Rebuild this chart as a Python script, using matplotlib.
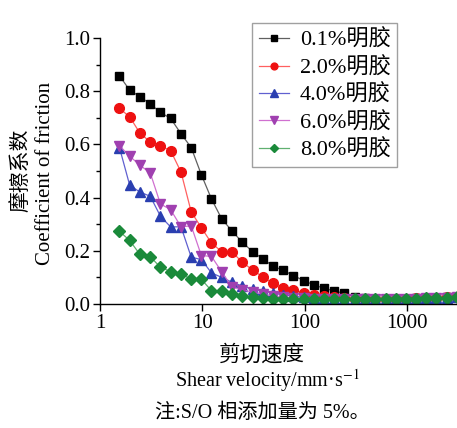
import matplotlib
matplotlib.use("Agg")
import matplotlib.pyplot as plt
from matplotlib.ticker import MultipleLocator, NullLocator, FixedLocator

plt.rcParams['font.family'] = ['Liberation Serif', 'Noto Sans CJK SC', 'DejaVu Serif']
plt.rcParams['mathtext.fontset'] = 'stix'

shear_velocity = [1.55, 1.95, 2.45, 3.1, 3.9, 4.9, 6.2, 7.8, 9.8, 12.3, 15.5, 19.5,
                  24.5, 31, 39, 49, 62, 78, 98, 123, 155, 195, 245, 310, 390, 490,
                  620, 780, 980, 1230, 1550, 1950, 2450, 3100]

cof_01 = [0.858, 0.804, 0.780, 0.752, 0.720, 0.698, 0.640, 0.588, 0.486, 0.395, 0.320, 0.275,
          0.233, 0.197, 0.170, 0.143, 0.126, 0.107, 0.088, 0.072, 0.059, 0.049, 0.040, 0.028,
          0.021, 0.020, 0.020, 0.020, 0.020, 0.021, 0.022, 0.023, 0.025, 0.026]
cof_20 = [0.735, 0.704, 0.643, 0.609, 0.594, 0.577, 0.496, 0.346, 0.287, 0.229, 0.197, 0.196,
          0.158, 0.128, 0.102, 0.078, 0.059, 0.053, 0.043, 0.034, 0.030, 0.025, 0.022, 0.020,
          0.019, 0.019, 0.019, 0.020, 0.020, 0.021, 0.022, 0.023, 0.025, 0.026]
cof_40 = [0.588, 0.447, 0.421, 0.405, 0.330, 0.290, 0.290, 0.176, 0.167, 0.117, 0.100, 0.082,
          0.068, 0.055, 0.050, 0.041, 0.034, 0.030, 0.025, 0.022, 0.020, 0.019, 0.018, 0.018,
          0.018, 0.018, 0.018, 0.019, 0.019, 0.020, 0.021, 0.022, 0.024, 0.025]
cof_60 = [0.595, 0.556, 0.522, 0.493, 0.376, 0.355, 0.290, 0.294, 0.182, 0.179, 0.121, 0.065,
          0.053, 0.045, 0.037, 0.030, 0.027, 0.024, 0.022, 0.020, 0.019, 0.018, 0.018, 0.018,
          0.018, 0.018, 0.018, 0.019, 0.019, 0.020, 0.021, 0.022, 0.024, 0.025]
cof_80 = [0.273, 0.239, 0.187, 0.178, 0.138, 0.122, 0.113, 0.093, 0.093, 0.050, 0.050, 0.038,
          0.030, 0.025, 0.021, 0.020, 0.019, 0.018, 0.018, 0.018, 0.018, 0.018, 0.018, 0.018,
          0.018, 0.018, 0.018, 0.019, 0.019, 0.020, 0.021, 0.022, 0.024, 0.025]

labels = ['0.1%明胶', '2.0%明胶', '4.0%明胶', '6.0%明胶', '8.0%明胶']
series = [cof_01, cof_20, cof_40, cof_60, cof_80]
line_colors = ['#606060', '#ff6060', '#6060d0', '#d070d0', '#60b070']
marker_colors = ['#000000', '#ee1111', '#2a3fb0', '#a040b0', '#1a8a3a']
markers = ['s', 'o', '^', 'v', 'D']
msizes = [6, 7, 7.5, 7.5, 6]

fig = plt.figure(figsize=(4.57, 4.28), dpi=100)
ax = fig.add_axes([100/457, 1 - 304/428, 1 - 100/457 + 0.002, (304 - 38)/428])

for y, lab, lc, mc, mk, ms in zip(series, labels, line_colors, marker_colors, markers, msizes):
    ax.plot(shear_velocity, y, color=lc, lw=0.9, marker=mk, markersize=ms,
            markerfacecolor=mc, markeredgecolor=mc, label=lab, clip_on=True)

ax.set_xscale('log')
ax.set_xlim(1, 10 ** 3.5)
ax.set_ylim(0, 1.0)
ax.xaxis.set_major_locator(FixedLocator([1, 10, 100, 1000]))
ax.xaxis.set_minor_locator(NullLocator())
ax.set_xticklabels(['1', '10', '100', '1000'])
ax.yaxis.set_major_locator(MultipleLocator(0.2))
ax.yaxis.set_minor_locator(MultipleLocator(0.1))
ax.yaxis.set_major_formatter(matplotlib.ticker.FormatStrFormatter('%.1f'))
ax.tick_params(axis='both', which='major', direction='out', length=5, width=1, labelsize=15, pad=2)
ax.tick_params(axis='y', which='minor', direction='out', length=3, width=1)
ax.spines['top'].set_visible(False)
ax.spines['right'].set_visible(False)
for s in ['left', 'bottom']:
    ax.spines[s].set_linewidth(1.0)

leg = ax.legend(loc='upper left', bbox_to_anchor=(252/457, 1 - 23/428), bbox_transform=fig.transFigure,
                borderaxespad=0, fontsize=16, frameon=True, fancybox=False, edgecolor='#888888',
                handlelength=1.35, handletextpad=0.5, labelspacing=0.28, borderpad=0.3,
                markerscale=0.7)
leg.get_frame().set_linewidth(1.0)

fig.text(20/457, 1 - 170/428, '摩擦系数', rotation=90, ha='center', va='center', fontsize=15,
         family=['Noto Sans CJK SC'])
fig.text(46/457, 1 - 173/428, 'Coefficient of friction', rotation=90, ha='center', va='center', fontsize=15)
fig.text(262/457, 1 - 355/428, '剪切速度', ha='center', va='center', fontsize=15.5,
         family=['Noto Sans CJK SC'])
fig.text(267/457, 1 - 381/428, 'Shear velocity/mm·s$^{-1}$', ha='center', va='center', fontsize=14.5)
fig.text(262/457, 1 - 413/428, '注:S/O 相添加量为 5%。', ha='center', va='center', fontsize=14.5)

fig.savefig('out.png', dpi=100)
